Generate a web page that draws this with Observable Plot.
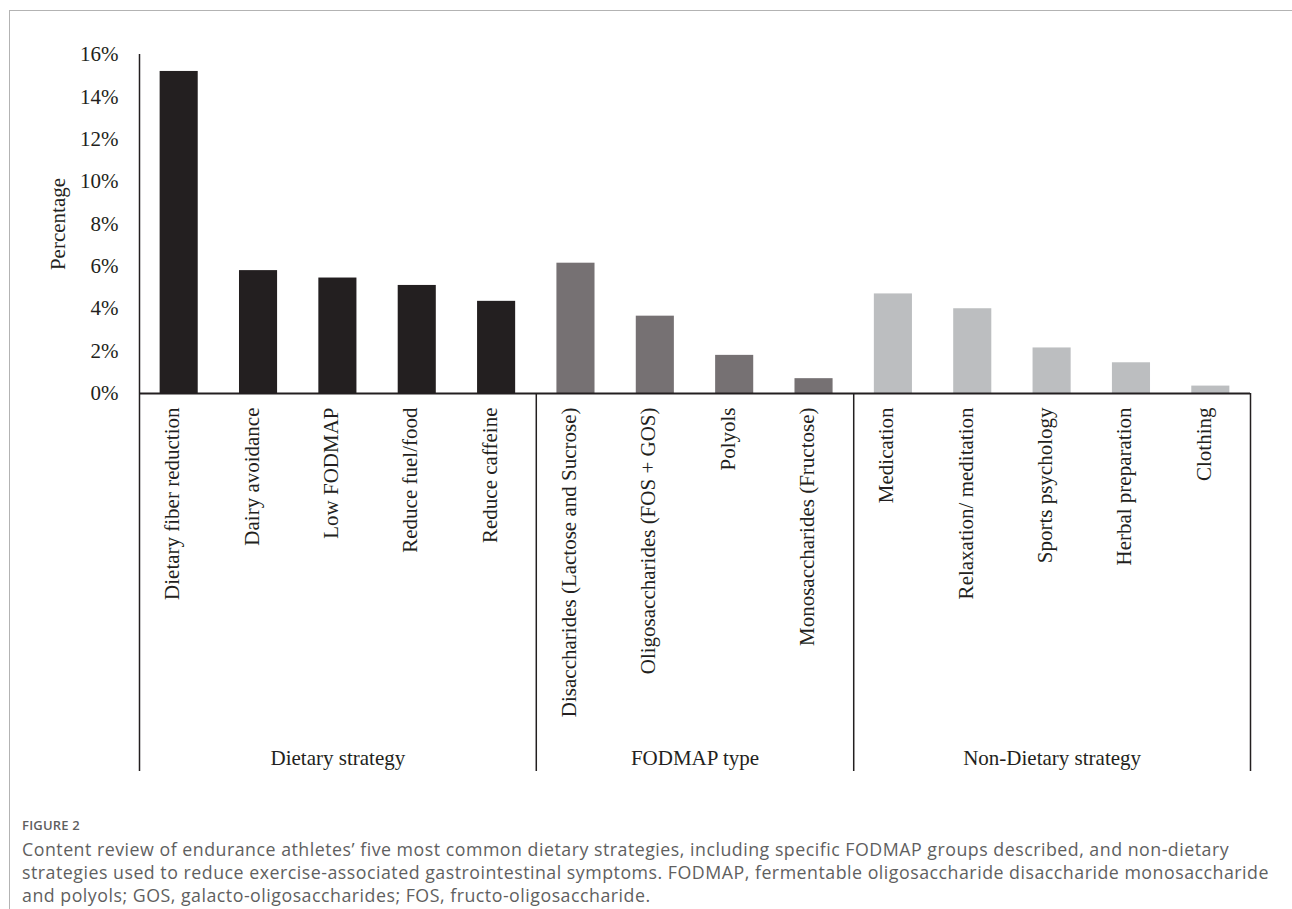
<!DOCTYPE html>
<html>
<head>
<meta charset="utf-8">
<script src="https://cdn.jsdelivr.net/npm/d3@7"></script>
<script src="https://cdn.jsdelivr.net/npm/@observablehq/plot@0.6"></script>
<style>
  html, body { margin: 0; padding: 0; background: #fff; }
  body { width: 1292px; height: 909px; position: relative; overflow: hidden; }
  #frame {
    position: absolute; left: 9px; top: 10px; right: 0; bottom: 0;
    border-top: 1.5px solid #b3b3b3; border-left: 1.5px solid #b3b3b3;
  }
  #chart { position: absolute; left: 0; top: 0; }
  #caption {
    position: absolute; left: 22px; top: 817px; width: 1268px;
    font-family: "Open Sans", sans-serif; color: #5f5f5f;
  }
  #caption .fig { font-size: 13px; font-weight: 600; line-height: 17px; letter-spacing: 0.2px; }
  #caption p { margin: 4px 0 0 0; font-size: 17.8px; line-height: 23px; letter-spacing: 0.5px; white-space: nowrap; }
</style>
</head>
<body>
<div id="frame"></div>
<div id="chart"></div>
<div id="caption">
  <div class="fig">FIGURE 2</div>
  <p>Content review of endurance athletes’ five most common dietary strategies, including specific FODMAP groups described, and non-dietary<br>strategies used to reduce exercise-associated gastrointestinal symptoms. FODMAP, fermentable oligosaccharide disaccharide monosaccharide<br>and polyols; GOS, galacto-oligosaccharides; FOS, fructo-oligosaccharide.</p>
</div>
<script>
// Strategies, in plotting order
const categories = [
  "Dietary fiber reduction", "Dairy avoidance", "Low FODMAP", "Reduce fuel/food", "Reduce caffeine",
  "Disaccharides (Lactose and Sucrose)", "Oligosaccharides (FOS + GOS)", "Polyols", "Monosaccharides (Fructose)",
  "Medication", "Relaxation/ meditation", "Sports psychology", "Herbal preparation", "Clothing"
];
// Share of reports (%)
const values = [15.2, 5.8, 5.45, 5.1, 4.35, 6.15, 3.65, 1.8, 0.7, 4.7, 4.0, 2.15, 1.45, 0.35];
// Strategy groups and how many consecutive categories each holds
const groupNames = ["Dietary strategy", "FODMAP type", "Non-Dietary strategy"];
const groupSizes = [5, 4, 5];
const groupColors = ["#231f20", "#767173", "#bcbec0"];
const yTicks = [0, 2, 4, 6, 8, 10, 12, 14, 16];

// Build rows and group spans
const groups = [];
let start = 0;
groupNames.forEach((name, g) => {
  groups.push({name, items: categories.slice(start, start + groupSizes[g])});
  start += groupSizes[g];
});
const rows = categories.map((c, i) => ({
  category: c,
  value: values[i],
  group: groups.find(g => g.items.includes(c)).name
}));

const width = 1292, height = 790;
const marginTop = 54, marginLeft = 139, marginRight = 42, marginBottom = 397;
const plotHeight = height - marginTop - marginBottom;
const step = (width - marginLeft - marginRight) / categories.length;
const ink = "#231f20";
const groupRuleDrop = 378;

// One centred label per group, under its span of categories
const groupLabelMarks = groups.map(g => {
  const n = g.items.length;
  const mid = Math.floor((n - 1) / 2);
  return Plot.text([g.name], {
    x: () => g.items[mid],
    text: d => d,
    frameAnchor: "bottom",
    dx: ((n - 1) / 2 - mid) * step,
    dy: 371,
    fill: ink
  });
});

const chart = Plot.plot({
  width, height, marginTop, marginLeft, marginRight, marginBottom,
  style: {fontFamily: "'Liberation Serif', 'Times New Roman', serif", fontSize: "21px", color: ink, background: "transparent"},
  x: {domain: categories, paddingInner: 0.52, paddingOuter: 0.26, round: false, axis: null},
  y: {domain: [0, 16], axis: null},
  color: {domain: groupNames, range: groupColors},
  marks: [
    Plot.barY(rows, {x: "category", y: "value", fill: "group"}),
    // y axis
    Plot.axisY({ticks: yTicks, tickFormat: d => d + "%", tickSize: 0, tickPadding: 21, label: null, fontSize: 21, fill: ink}),
    Plot.ruleX([categories[0]], {x: d => d, y1: 0, y2: 16, dx: -step / 2, stroke: ink, strokeWidth: 1.5}),
    Plot.text(["Percentage"], {text: d => d, frameAnchor: "left", textAnchor: "middle", rotate: -90, dx: -81, fill: ink}),
    // baseline
    Plot.ruleY([0], {stroke: ink, strokeWidth: 2}),
    // category labels
    Plot.text(categories, {x: d => d, text: d => d, frameAnchor: "bottom", rotate: -90, textAnchor: "end", dy: 14, fill: ink}),
    // group separators below the axis
    Plot.ruleX(groups, {x: g => g.items[0], dx: -step / 2, insetTop: plotHeight, insetBottom: -groupRuleDrop, stroke: ink, strokeWidth: 1.5}),
    Plot.ruleX([groups[groups.length - 1]], {x: g => g.items[g.items.length - 1], dx: step / 2, insetTop: plotHeight, insetBottom: -groupRuleDrop, stroke: ink, strokeWidth: 1.5}),
    ...groupLabelMarks
  ]
});
document.getElementById("chart").appendChild(chart);
</script>
</body>
</html>
